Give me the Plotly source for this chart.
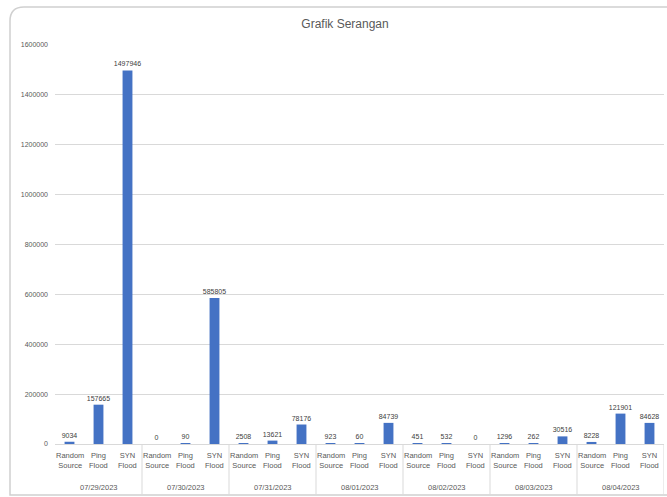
import plotly.graph_objects as go

dates = ["07/29/2023", "07/30/2023", "07/31/2023", "08/01/2023", "08/02/2023", "08/03/2023", "08/04/2023"]
types = ["Random<br>Source", "Ping<br>Flood", "SYN<br>Flood"]
values = [
    9034, 157665, 1497946,
    0, 90, 585805,
    2508, 13621, 78176,
    923, 60, 84739,
    451, 532, 0,
    1296, 262, 30516,
    8228, 121901, 84628,
]
y_ticks = [0, 200000, 400000, 600000, 800000, 1000000, 1200000, 1400000, 1600000]

n_types = len(types)
n = len(dates) * n_types
xpos = list(range(n))
type_labels = [t for _ in dates for t in types]

L, R, T, B = 55, 3, 45, 53
W, H = 667, 497
pw = W - L - R
ph = H - T - B

def px(x):
    return (x - L) / pw

def py(y):
    return (H - B - y) / ph

FONT = "Liberation Sans"
GRAY = "#d9d9d9"
TXT = "#595959"

fig = go.Figure()
fig.add_trace(go.Bar(
    x=xpos,
    y=values,
    width=0.34,
    marker=dict(color="#4472C4", line=dict(width=0)),
    text=[str(v) for v in values],
    textposition="outside",
    constraintext="none",
    cliponaxis=False,
    textfont=dict(size=7, color="#404040", family=FONT),
))

annotations = []
for i, lab in enumerate(type_labels):
    annotations.append(dict(
        x=i, xref="x", y=py(449), yref="paper", yanchor="top", xanchor="center",
        text=lab, showarrow=False, align="center",
        font=dict(size=7.5, color=TXT, family=FONT),
    ))
for g, d in enumerate(dates):
    annotations.append(dict(
        x=g * n_types + (n_types - 1) / 2, xref="x", y=py(487), yref="paper",
        yanchor="middle", xanchor="center", text=d, showarrow=False,
        font=dict(size=7.5, color=TXT, family=FONT),
    ))

shapes = []
for g in range(1, len(dates) + 1):
    xb = g * n_types - 0.5
    shapes.append(dict(type="line", xref="x", yref="paper", x0=xb, x1=xb,
                       y0=0, y1=py(494), line=dict(color=GRAY, width=1)))

x0, x1 = px(10), px(668)
y0, y1 = py(495), py(7)
r = 14
rx = r / pw
ry = r / ph
path = (f"M {x1},{y0} L {x0},{y0} L {x0},{y1 - ry} "
        f"Q {x0},{y1} {x0 + rx},{y1} L {x1},{y1}")
shapes.append(dict(type="path", xref="paper", yref="paper", path=path,
                   line=dict(color="#d0d0d0", width=1.5)))

fig.update_layout(
    width=W, height=H,
    margin=dict(l=L, r=R, t=T, b=B),
    paper_bgcolor="white", plot_bgcolor="white",
    showlegend=False,
    title=dict(text="Grafik Serangan", x=345 / W, xanchor="center",
               y=1 - 24 / H, yanchor="middle",
               font=dict(size=12, color=TXT, family=FONT)),
    font=dict(family=FONT, size=7, color=TXT),
    xaxis=dict(
        range=[-0.5, n - 0.5],
        showticklabels=False, showgrid=False, zeroline=False,
        showline=True, linecolor=GRAY, linewidth=1, ticks="",
    ),
    yaxis=dict(
        range=[0, 1600000],
        tickvals=y_ticks,
        ticktext=[str(v) for v in y_ticks],
        showgrid=True, gridcolor=GRAY, gridwidth=1,
        zeroline=False,
        tickfont=dict(size=7, color=TXT),
        ticks="", ticklabelstandoff=6,
    ),
    annotations=annotations,
    shapes=shapes,
)

fig.write_html("out.html")
